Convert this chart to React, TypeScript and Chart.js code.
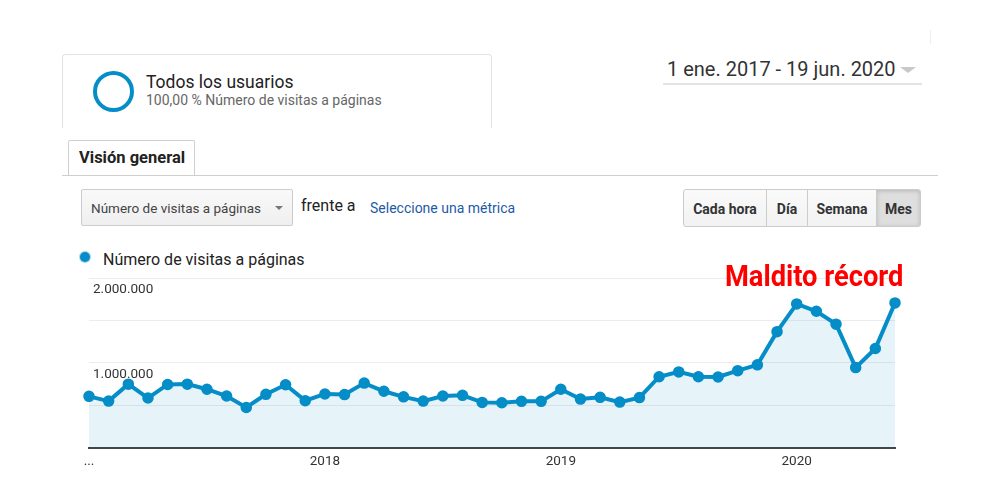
import React, { useEffect, useRef } from "react";
import { Chart, registerables } from "chart.js";

Chart.register(...registerables);

// ---- Data (monthly page views, Jan 2017 – Jun 2020) ----
const months: string[] = [
  "ene 2017", "feb 2017", "mar 2017", "abr 2017", "may 2017", "jun 2017",
  "jul 2017", "ago 2017", "sep 2017", "oct 2017", "nov 2017", "dic 2017",
  "ene 2018", "feb 2018", "mar 2018", "abr 2018", "may 2018", "jun 2018",
  "jul 2018", "ago 2018", "sep 2018", "oct 2018", "nov 2018", "dic 2018",
  "ene 2019", "feb 2019", "mar 2019", "abr 2019", "may 2019", "jun 2019",
  "jul 2019", "ago 2019", "sep 2019", "oct 2019", "nov 2019", "dic 2019",
  "ene 2020", "feb 2020", "mar 2020", "abr 2020", "may 2020", "jun 2020",
];

const pageviews: number[] = [
  606000, 550000, 750000, 586000, 746000, 750000,
  690000, 610000, 475000, 630000, 742000, 555000,
  634000, 627000, 762000, 666000, 600000, 550000,
  610000, 618000, 535000, 531000, 547000, 547000,
  690000, 574000, 594000, 538000, 591000, 837000,
  894000, 837000, 834000, 909000, 977000, 1368000,
  1695000, 1608000, 1456000, 945000, 1169000, 1707000,
];

const xTickIndexes: number[] = [0, 12, 24, 36];
const xTickTexts: string[] = ["...", "2018", "2019", "2020"];
const yLabeledValues: number[] = [1000000, 2000000];

const seriesName = "Número de visitas a páginas";
const annotationText = "Maldito récord";

const BLUE = "#058dc7";
const FONT = "Roboto, 'Noto Sans', Arial, sans-serif";

function fmtThousands(v: number): string {
  return Math.round(v).toString().replace(/\B(?=(\d{3})+(?!\d))/g, ".");
}

// text helper: position by baseline (Roboto, line-height 1.2)
function T(props: {
  x: number;
  base: number;
  size: number;
  color?: string;
  bold?: boolean;
  children: React.ReactNode;
  style?: React.CSSProperties;
}) {
  const { x, base, size, color = "#222", bold, children, style } = props;
  return (
    <div
      style={{
        position: "absolute",
        left: x,
        top: base - 0.942 * size,
        fontSize: size,
        lineHeight: 1.2,
        color,
        fontWeight: bold ? 700 : 400,
        whiteSpace: "nowrap",
        fontFamily: FONT,
        ...style,
      }}
    >
      {children}
    </div>
  );
}

function ChartCanvas() {
  const ref = useRef<HTMLCanvasElement | null>(null);
  useEffect(() => {
    if (!ref.current) return;
    const chart = new Chart(ref.current, {
      type: "line",
      data: {
        labels: months,
        datasets: [
          {
            label: seriesName,
            data: pageviews,
            borderColor: BLUE,
            borderWidth: 4,
            backgroundColor: "rgba(5,141,199,0.1)",
            fill: "origin",
            pointRadius: 5,
            pointBorderWidth: 1.5,
            pointBackgroundColor: BLUE,
            pointBorderColor: BLUE,
            tension: 0,
            clip: false as any,
          },
        ],
      },
      options: {
        animation: false,
        responsive: false,
        maintainAspectRatio: false,
        layout: { padding: { left: 81, right: 105, top: 278, bottom: 24 } },
        plugins: { legend: { display: false }, tooltip: { enabled: false } },
        scales: {
          x: {
            offset: false,
            z: 1,
            grid: { display: false, drawTicks: false },
            border: { display: true, color: "#444", width: 2 },
            ticks: {
              autoSkip: false,
              maxRotation: 0,
              padding: 6,
              color: "#333",
              font: { family: FONT, size: 13.5 },
              callback: (_v: any, i: number) => {
                const k = xTickIndexes.indexOf(i);
                return k >= 0 ? xTickTexts[k] : "";
              },
            },
          },
          y: {
            min: 0,
            max: 2000000,
            z: 1,
            grid: { color: "rgba(0,0,0,0.075)", drawTicks: false, lineWidth: 1 },
            border: { display: false },
            ticks: {
              stepSize: 500000,
              mirror: true,
              padding: 4,
              labelOffset: 12,
              color: "#333",
              font: { family: FONT, size: 13.5 },
              callback: (v: any) =>
                yLabeledValues.includes(Number(v)) ? fmtThousands(Number(v)) : "",
            },
          },
        },
      },
    });
    return () => chart.destroy();
  }, []);
  return (
    <canvas
      ref={ref}
      width={1000}
      height={500}
      style={{ position: "absolute", left: 0, top: 0, width: 1000, height: 500 }}
    />
  );
}

const buttons: string[] = ["Cada hora", "Día", "Semana", "Mes"];
const buttonWidths: number[] = [83, 41, 69, 45];

export default function App() {
  let bx = 683;
  return (
    <div
      style={{
        position: "absolute",
        left: 0,
        top: 0,
        width: 1000,
        height: 500,
        background: "#fff",
        overflow: "hidden",
        fontFamily: FONT,
      }}
    >
      {/* segment card */}
      <div
        style={{
          position: "absolute",
          left: 62,
          top: 54,
          width: 430,
          height: 74,
          border: "1px solid #e2e2e2",
          borderBottom: "none",
          borderRadius: "4px 4px 0 0",
          boxSizing: "border-box",
        }}
      />
      <div
        style={{
          position: "absolute",
          left: 93,
          top: 71,
          width: 41,
          height: 41,
          borderRadius: "50%",
          border: `4.5px solid ${BLUE}`,
          boxSizing: "border-box",
        }}
      />
      <T x={146} base={88} size={17.5} color="#222">Todos los usuarios</T>
      <T x={146} base={105} size={14} color="#666">100,00 % Número de visitas a páginas</T>

      {/* date range */}
      <T x={667} base={76} size={20} color="#333">1 ene. 2017 - 19 jun. 2020</T>
      <div
        style={{
          position: "absolute",
          left: 900,
          top: 67,
          width: 0,
          height: 0,
          borderLeft: "8px solid transparent",
          borderRight: "8px solid transparent",
          borderTop: "6px solid #c8c8c8",
        }}
      />
      <div style={{ position: "absolute", left: 663, top: 83, width: 259, height: 2, background: "#e4e4e4" }} />
      <div style={{ position: "absolute", left: 930, top: 30, width: 1, height: 14, background: "#eee" }} />

      {/* tabs */}
      <div
        style={{
          position: "absolute",
          left: 68,
          top: 140,
          width: 127,
          height: 36,
          border: "1px solid #cfcfcf",
          borderBottom: "none",
          borderRadius: "2px 2px 0 0",
          boxSizing: "border-box",
          background: "#fff",
        }}
      />
      <div style={{ position: "absolute", left: 62, top: 175, width: 876, height: 1, background: "#cfcfcf" }} />
      <T x={79} base={164} size={16.5} bold color="#222">Visión general</T>

      {/* metric selector */}
      <div
        style={{
          position: "absolute",
          left: 81,
          top: 189,
          width: 212,
          height: 37,
          border: "1px solid #cccccc",
          borderRadius: 2,
          boxSizing: "border-box",
          background: "linear-gradient(#f9f9f9, #efefef)",
        }}
      />
      <T x={91} base={213} size={13.5} color="#444">{seriesName}</T>
      <div
        style={{
          position: "absolute",
          left: 275,
          top: 206,
          width: 0,
          height: 0,
          borderLeft: "4px solid transparent",
          borderRight: "4px solid transparent",
          borderTop: "4px solid #777",
        }}
      />
      <T x={301} base={211} size={16} color="#222">frente a</T>
      <T x={370} base={213} size={14} color="#1d5aa5">Seleccione una métrica</T>

      {/* granularity buttons */}
      {buttons.map((b, i) => {
        const left = bx;
        bx += buttonWidths[i];
        const active = i === buttons.length - 1;
        return (
          <div
            key={b}
            style={{
              position: "absolute",
              left,
              top: 189,
              width: buttonWidths[i] + (i === buttons.length - 1 ? 0 : 1),
              height: 38,
              border: "1px solid #cccccc",
              boxSizing: "border-box",
              borderRadius:
                i === 0 ? "3px 0 0 3px" : i === buttons.length - 1 ? "0 3px 3px 0" : 0,
              background: active ? "#dedede" : "linear-gradient(#fafafa, #f2f2f2)",
              boxShadow: active ? "inset 0 1px 4px rgba(0,0,0,0.18)" : "none",
              display: "flex",
              alignItems: "center",
              justifyContent: "center",
              fontSize: 14,
              fontWeight: 700,
              color: "#333",
              fontFamily: FONT,
              paddingTop: 1,
            }}
          >
            {b}
          </div>
        );
      })}

      {/* legend */}
      <div
        style={{
          position: "absolute",
          left: 80,
          top: 252,
          width: 10,
          height: 10,
          borderRadius: "50%",
          background: BLUE,
          boxShadow: "0 0 0 1px rgba(5,141,199,0.35)",
        }}
      />
      <T x={103} base={265} size={16} color="#222">{seriesName}</T>

      <ChartCanvas />

      {/* annotation */}
      <T
        x={725}
        base={286}
        size={29}
        bold
        color="#ff0000"
        style={{ transform: "scaleX(0.94)", transformOrigin: "left center" }}
      >
        {annotationText}
      </T>
    </div>
  );
}
